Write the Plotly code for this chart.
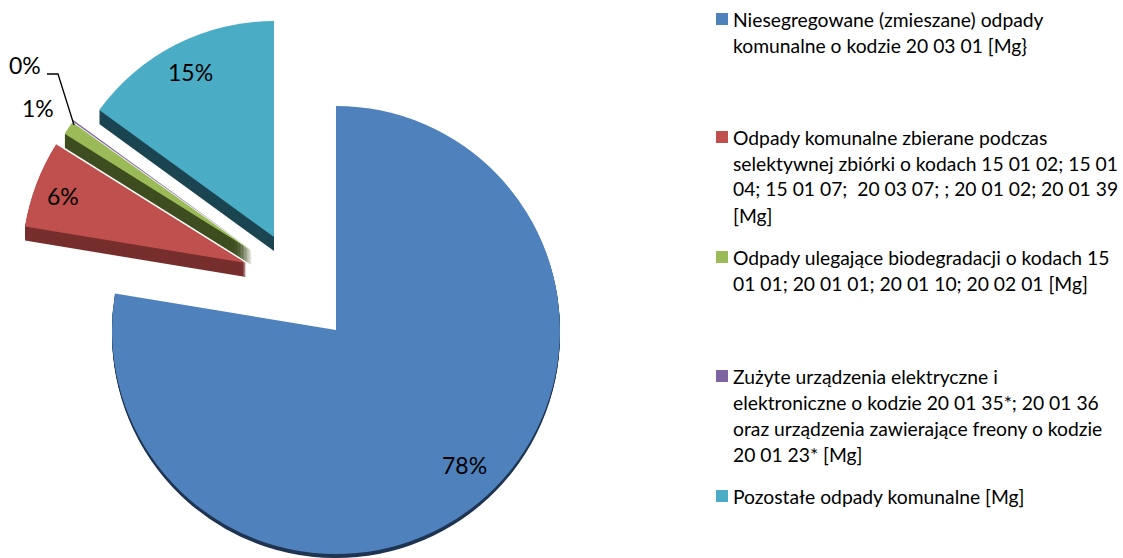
import plotly.graph_objects as go

W, H = 1123, 558

categories = [
    "Niesegregowane (zmieszane) odpady komunalne o kodzie 20 03 01 [Mg}",
    "Odpady komunalne zbierane podczas selektywnej zbiórki o kodach 15 01 02; 15 01 04; 15 01 07;  20 03 07; ; 20 01 02; 20 01 39 [Mg]",
    "Odpady ulegające biodegradacji o kodach 15 01 01; 20 01 01; 20 01 10; 20 02 01 [Mg]",
    "Zużyte urządzenia elektryczne i elektroniczne o kodzie 20 01 35*; 20 01 36 oraz urządzenia zawierające freony o kodzie 20 01 23* [Mg]",
    "Pozostałe odpady komunalne [Mg]",
]
values = [77.6, 6.3, 1.0, 0.1, 15.0]
colors = ["#4F81BD", "#C0504D", "#9BBB59", "#8064A2", "#4BACC6"]
side_colors = ["#1F3552", "#772F2D", "#3F4E20", "#3F3150", "#1C4652"]
legend_lines = [
    ["Niesegregowane (zmieszane) odpady", "komunalne o kodzie 20 03 01 [Mg}"],
    ["Odpady komunalne zbierane podczas", "selektywnej zbiórki o kodach 15 01 02; 15 01",
     "04; 15 01 07;  20 03 07; ; 20 01 02; 20 01 39", "[Mg]"],
    ["Odpady ulegające biodegradacji o kodach 15", "01 01; 20 01 01; 20 01 10; 20 02 01 [Mg]"],
    ["Zużyte urządzenia elektryczne i", "elektroniczne o kodzie 20 01 35*; 20 01 36",
     "oraz urządzenia zawierające freony o kodzie", "20 01 23* [Mg]"],
    ["Pozostałe odpady komunalne [Mg]"],
]

# layout: per slice (centre x, centre y, radius, depth) in pixels
slice_geom = [(336, 330, 224, 4), (246, 263, 224, 14), (252, 251, 221, 14), (252, 250, 221, 0), (274, 237, 216, 14)]
legend_y = [19, 137, 257, 376, 496]
label_xy = [(464, 465), (63, 196), (38, 108), (25, 65), (190, 72)]
LH = 26
FONT = "Lato"


def pie(idx, cx, cy, r, color):
    cols = ["rgba(0,0,0,0)"] * len(values)
    cols[idx] = color
    return go.Pie(
        labels=categories, values=values, sort=False, direction="clockwise", rotation=0,
        marker=dict(colors=cols, line=dict(width=0)), textinfo="none", showlegend=False,
        hoverinfo="label+percent" if color == colors[idx] else "skip",
        domain=dict(x=[(cx - r) / W, (cx + r) / W], y=[1 - (cy + r) / H, 1 - (cy - r) / H]),
    )


fig = go.Figure()
for i in [0, 2, 3, 1, 4]:
    cx, cy, r, d = slice_geom[i]
    for off in range(d, 0, -1):
        fig.add_trace(pie(i, cx, cy + off, r, side_colors[i]))
    fig.add_trace(pie(i, cx, cy, r, colors[i]))

total = sum(values)
annotations = []
shapes = []
for v, (x, y) in zip(values, label_xy):
    annotations.append(dict(text=f"{v / total:.0%}", x=x / W, y=1 - y / H, xref="paper", yref="paper",
                            showarrow=False, xanchor="center", yanchor="middle",
                            font=dict(family=FONT, size=23, color="#000000")))
for lines, y0, c in zip(legend_lines, legend_y, colors):
    shapes.append(dict(type="rect", xref="paper", yref="paper", x0=716 / W, x1=728 / W,
                       y0=1 - (y0 + 6) / H, y1=1 - (y0 - 6) / H, fillcolor=c, line=dict(width=0)))
    for j, line in enumerate(lines):
        annotations.append(dict(text=line, x=731 / W, y=1 - (y0 + j * LH) / H, xref="paper", yref="paper",
                                showarrow=False, xanchor="left", yanchor="middle",
                                font=dict(family=FONT, size=19.3, color="#000000")))
# leader line of the 0% label
shapes.append(dict(type="path", xref="paper", yref="paper",
                   path=f"M {47 / W} {1 - 74 / H} L {58 / W} {1 - 74 / H} L {74 / W} {1 - 125 / H}",
                   line=dict(color="#000000", width=1.3)))

fig.update_layout(width=W, height=H, margin=dict(l=0, r=0, t=0, b=0), paper_bgcolor="white",
                  annotations=annotations, shapes=shapes)
fig.write_html("out.html", post_script="document.body.style.margin='0';",
               config={"displayModeBar": False})
